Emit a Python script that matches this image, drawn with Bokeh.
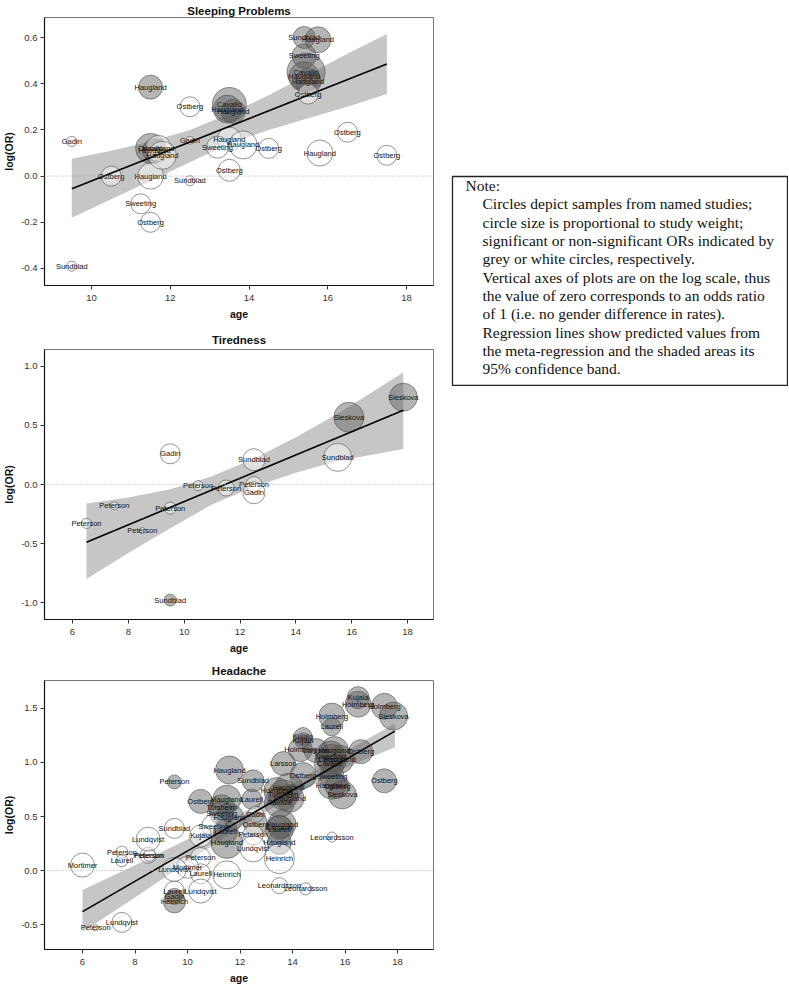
from bokeh.plotting import figure
from bokeh.models import ColumnDataSource, Range1d, FixedTicker, PrintfTickFormatter, Span
from bokeh.layouts import column, row
from bokeh.embed import file_html
from bokeh.resources import INLINE
from bokeh.core.properties import value

FONT = "Liberation Sans"
SERIF = "Liberation Serif"

# ---------------- Sleeping Problems ----------------
sp_study = ["Gadin", "Sundblad", "Ostberg", "Haugland", "Sweeting", "Ostberg", "Haugland",
            "Cavallo", "Haugland", "Haugland", "Haugland", "Gadin", "Sundblad", "Ostberg",
            "Cavallo", "Haugland", "Haugland", "Haugland", "Sweeting", "Haugland", "Ostberg",
            "Ostberg", "Sundblad", "Haugland", "Sweeting", "Cavallo", "Haugland", "Haugland",
            "Ostberg", "Ostberg", "Haugland", "Ostberg"]
sp_age = [9.5, 9.5, 10.5, 11.5, 11.25, 11.5, 11.5,
          11.5, 11.6, 11.7, 11.8, 12.5, 12.5, 12.5,
          13.5, 13.45, 13.6, 13.5, 13.2, 13.85, 14.5,
          13.5, 15.4, 15.75, 15.4, 15.45, 15.4, 15.5,
          15.5, 16.5, 15.8, 17.5]
sp_logor = [0.15, -0.39, 0.0, 0.0, -0.12, -0.2, 0.385,
            0.12, 0.11, 0.12, 0.09, 0.155, -0.02, 0.30,
            0.31, 0.29, 0.28, 0.16, 0.125, 0.135, 0.12,
            0.025, 0.60, 0.59, 0.52, 0.45, 0.43, 0.41,
            0.355, 0.19, 0.10, 0.09]
sp_weight = [5, 5, 10, 13, 10, 10, 12,
             15, 12, 13, 14, 4, 5, 10,
             17, 14, 12, 12, 11, 14, 10,
             11, 11, 13, 12, 19, 15, 13,
             10, 10, 13, 10]
sp_sig = [0, 0, 0, 0, 0, 0, 1,
          1, 1, 0, 0, 0, 0, 0,
          1, 1, 1, 0, 0, 0, 0,
          0, 1, 1, 1, 1, 1, 1,
          0, 0, 0, 0]
sp_line_age = [9.5, 17.5]
sp_line_fit = [-0.055, 0.485]
sp_band_age = [9.5, 10.5, 11.5, 12.5, 13.5, 14.5, 15.5, 16.5, 17.5]
sp_band_lo = [-0.18, -0.10, -0.02, 0.06, 0.14, 0.20, 0.25, 0.30, 0.355]
sp_band_hi = [0.075, 0.11, 0.15, 0.20, 0.27, 0.35, 0.44, 0.53, 0.615]
sp_xticks = [10, 12, 14, 16, 18]
sp_yticks = [-0.4, -0.2, 0.0, 0.2, 0.4, 0.6]

# ---------------- Tiredness ----------------
ti_study = ["Sleskova", "Sleskova", "Gadin", "Sundblad", "Sundblad", "Peterson", "Peterson",
            "Peterson", "Gadin", "Peterson", "Peterson", "Peterson", "Peterson", "Sundblad"]
ti_age = [17.85, 15.9, 9.5, 12.5, 15.5, 10.5, 11.5, 12.5, 12.5, 7.5, 9.5, 6.5, 8.5, 9.5]
ti_logor = [0.74, 0.57, 0.26, 0.21, 0.23, -0.01, -0.03, 0.0, -0.07, -0.18, -0.2, -0.33, -0.39, -0.98]
ti_weight = [14, 15, 10, 11, 14, 5, 8, 8, 11, 4, 6, 5, 3, 6]
ti_sig = [1, 1, 0, 0, 0, 0, 0, 0, 0, 0, 0, 0, 0, 1]
ti_line_age = [6.5, 17.85]
ti_line_fit = [-0.49, 0.63]
ti_band_age = [6.5, 8.0, 9.5, 11.0, 12.5, 14.0, 15.5, 17.85]
ti_band_lo = [-0.80, -0.58, -0.37, -0.17, -0.02, 0.10, 0.20, 0.30]
ti_band_hi = [-0.16, -0.11, -0.04, 0.07, 0.22, 0.40, 0.60, 0.95]
ti_xticks = [6, 8, 10, 12, 14, 16, 18]
ti_yticks = [-1.0, -0.5, 0.0, 0.5, 1.0]

# ---------------- Headache ----------------
he_study = ["Kujala", "Holmberg", "Holmberg", "Sleskova", "Holmberg", "Laurell", "Kujala",
            "Kujala", "Holmberg", "Larsson", "Haugland", "Ostberg", "Sweeting", "Larsson",
            "Haugland", "Cavallo", "Larsson", "Ostberg", "Sweeting", "Ostberg", "Haugland",
            "Ostberg", "Sleskova", "Haugland", "Sundblad", "Peterson", "Ostberg", "Haugland",
            "Laurell", "Haugland", "Holmberg", "Torsheim", "Haugland", "Cavallo", "Torsheim",
            "Sweeting", "Haugland", "Gadin", "Ostberg", "Haugland", "Laurell", "Larsson",
            "Sweeting", "Laurell", "Kujala", "Peterson", "Leonardsson", "Haugland", "Lundqvist",
            "Haugland", "Heinrich", "Sundblad", "Peterson", "Laurell", "Heinrich", "Mortimer",
            "Lundqvist", "Lundqvist", "Laurell", "Gadin", "Heinrich", "Leonardsson", "Leonardsson",
            "Mortimer", "Peterson", "Laurell", "Peterson", "Peterson", "Lundqvist", "Peterson",
            "Lundqvist"]
he_age = [16.5, 16.5, 17.5, 17.85, 15.5, 15.5, 14.4,
          14.4, 14.3, 14.9, 15.6, 16.6, 15.45, 15.5,
          15.8, 15.4, 13.65, 14.4, 15.5, 17.5, 15.5,
          15.7, 15.9, 11.6, 12.5, 9.5, 10.5, 11.5,
          12.45, 13.85, 13.4, 13.65, 13.9, 13.5, 11.3,
          11.3, 11.6, 12.6, 12.6, 13.6, 13.5, 13.5,
          11.0, 11.45, 10.5, 12.5, 15.5, 11.5, 12.5,
          13.5, 13.5, 9.5, 10.5, 10.5, 11.5, 10.0,
          9.5, 10.5, 9.5, 9.5, 9.5, 13.5, 14.5,
          6.0, 7.5, 7.5, 8.5, 8.55, 8.5, 6.5,
          7.5]
he_logor = [1.60, 1.54, 1.52, 1.43, 1.43, 1.33, 1.24,
            1.20, 1.12, 1.11, 1.11, 1.10, 1.06, 1.03,
            1.03, 0.99, 0.99, 0.88, 0.87, 0.83, 0.79,
            0.78, 0.70, 0.93, 0.83, 0.82, 0.64, 0.66,
            0.66, 0.77, 0.74, 0.70, 0.67, 0.63, 0.58,
            0.53, 0.49, 0.52, 0.43, 0.43, 0.38, 0.40,
            0.41, 0.36, 0.32, 0.33, 0.31, 0.26, 0.20,
            0.26, 0.11, 0.39, 0.12, -0.03, -0.04, 0.03,
            0.01, -0.19, -0.19, -0.24, -0.29, -0.14, -0.17,
            0.05, 0.17, 0.09, 0.14, 0.14, 0.29, -0.53,
            -0.48]
he_weight = [11, 13, 13, 14, 13, 9, 9,
             8, 12, 12, 14, 12, 15, 15,
             14, 15, 12, 13, 12, 12, 14,
             12, 14, 14, 11, 7, 12, 14,
             10, 14, 13, 15, 14, 15, 13,
             12, 14, 8, 12, 14, 14, 12,
             12, 12, 11, 10, 5, 16, 13,
             12, 15, 10, 10, 10, 14, 11,
             12, 12, 10, 8, 11, 8, 6,
             12, 6, 6, 8, 6, 12, 3,
             10]
he_sig = [1, 1, 1, 1, 1, 1, 1,
          1, 1, 1, 1, 1, 1, 1,
          1, 1, 1, 1, 1, 1, 1,
          1, 1, 1, 1, 1, 1, 1,
          1, 1, 1, 1, 1, 1, 1,
          1, 1, 0, 1, 1, 1, 1,
          0, 1, 0, 0, 0, 1, 0,
          1, 0, 0, 0, 0, 0, 0,
          0, 0, 0, 1, 1, 0, 0,
          0, 0, 0, 0, 0, 0, 0,
          0]
he_line_age = [6.0, 17.9]
he_line_fit = [-0.38, 1.29]
he_band_age = [6.0, 8.0, 10.0, 12.0, 14.0, 16.0, 17.9]
he_band_lo = [-0.57, -0.25, 0.08, 0.40, 0.69, 0.95, 1.14]
he_band_hi = [-0.18, 0.05, 0.29, 0.52, 0.80, 1.10, 1.36]
he_xticks = [6, 8, 10, 12, 14, 16, 18]
he_yticks = [-0.5, 0.0, 0.5, 1.0, 1.5]

note_lines = [
    "Note:",
    "Circles depict samples from named studies;",
    "circle size is proportional to study weight;",
    "significant or non-significant ORs indicated by",
    "grey or white circles, respectively.",
    "Vertical axes of plots are on the log scale, thus",
    "the value of zero corresponds to an odds ratio",
    "of 1 (i.e. no gender difference in rates).",
    "Regression lines show predicted values from",
    "the meta-regression and the shaded areas its",
    "95% confidence band.",
]


def make_panel(title, study, ages, lor, weight, sig, lx, ly, bx, blo, bhi,
               xticks, yticks, xr, yr, frame_h, mb_top, mb_bottom, t_standoff):
    p = figure(frame_width=389, frame_height=frame_h,
               x_range=Range1d(*xr), y_range=Range1d(*yr),
               output_backend="svg", toolbar_location=None,
               min_border_left=44, min_border_right=6,
               min_border_top=mb_top, min_border_bottom=mb_bottom,
               title=title)
    p.title.align = "center"
    p.title.text_font = FONT
    p.title.text_font_size = "11.5px"
    p.title.text_font_style = "bold"
    p.title.standoff = t_standoff
    p.title.text_color = "#111111"
    p.xgrid.visible = False
    p.ygrid.visible = False
    p.outline_line_color = "#777777"
    p.outline_line_width = 1
    p.background_fill_color = "white"
    p.border_fill_color = "white"
    for ax in (p.xaxis, p.yaxis):
        ax.axis_line_color = "#111111"
        ax.axis_line_width = 1.2
        ax.major_tick_line_color = "#333333"
        ax.major_tick_out = 4
        ax.major_tick_in = 0
        ax.minor_tick_line_color = None
        ax.major_label_text_font = FONT
        ax.major_label_text_font_size = "9.5px"
        ax.major_label_text_color = "#333333"
        ax.major_label_standoff = 5
        ax.axis_label_text_font = FONT
        ax.axis_label_text_font_size = "10.5px"
        ax.axis_label_text_font_style = "bold"
        ax.axis_label_text_color = "#111111"
        ax.axis_label_standoff = 4
    p.yaxis.major_label_standoff = 3
    p.yaxis.axis_label_standoff = 3
    p.xaxis.ticker = FixedTicker(ticks=xticks)
    p.yaxis.ticker = FixedTicker(ticks=yticks)
    p.yaxis.formatter = PrintfTickFormatter(format="%.1f")
    p.xaxis.axis_label = "age"
    p.yaxis.axis_label = "log(OR)"

    p.varea(x=bx, y1=blo, y2=bhi, fill_color="#c6c6c6", fill_alpha=1.0)
    p.add_layout(Span(location=0, dimension="width", line_color="#b0b0b0",
                      line_dash="1 2", line_width=1))
    src = ColumnDataSource(dict(
        x=ages, y=lor, study=study,
        size=[2 * w for w in weight],
        fill=["#5c5c5c" if s else "#ffffff" for s in sig],
        alpha=[0.45 for s in sig],
    ))
    p.scatter("x", "y", size="size", source=src, marker="circle",
              fill_color="fill", fill_alpha="alpha",
              line_color="#555555", line_width=0.7, line_alpha=0.9)
    p.line(lx, ly, line_color="black", line_width=1.6)
    p.text("x", "y", text="study", source=src, text_align="center",
           text_baseline="middle", text_font=value(FONT),
           text_font_size="7.5px", text_color="#111111")
    return p


p1 = make_panel("Sleeping Problems", sp_study, sp_age, sp_logor, sp_weight, sp_sig,
                sp_line_age, sp_line_fit, sp_band_age, sp_band_lo, sp_band_hi,
                sp_xticks, sp_yticks, (8.807, 18.685), (-0.4736, 0.6866),
                268, 17, 42, 2)
p2 = make_panel("Tiredness", ti_study, ti_age, ti_logor, ti_weight, ti_sig,
                ti_line_age, ti_line_fit, ti_band_age, ti_band_lo, ti_band_hi,
                ti_xticks, ti_yticks, (4.997, 18.931), (-1.144, 1.144),
                270, 22, 39, 7)
p3 = make_panel("Headache", he_study, he_age, he_logor, he_weight, he_sig,
                he_line_age, he_line_fit, he_band_age, he_band_lo, he_band_hi,
                he_xticks, he_yticks, (4.552, 19.371), (-0.731, 1.759),
                269, 22, 35, 7)

note = figure(width=337, height=211, x_range=Range1d(0, 335), y_range=Range1d(209, 0),
              output_backend="svg", toolbar_location=None, min_border=1)
note.axis.visible = False
note.xgrid.visible = False
note.ygrid.visible = False
note.outline_line_color = "#222222"
note.outline_line_width = 1.3
nx = [13] + [30] * (len(note_lines) - 1)
ny = [9 + 18.33 * i for i in range(len(note_lines))]
note.text(x=nx, y=ny, text=note_lines, text_align="left", text_baseline="middle",
          text_font=value(SERIF), text_font_size="15.5px", text_color="#111111")
note.margin = (175, 0, 0, 12)

layout = row(column(p1, p2, p3), note)
open("out.html", "w").write(file_html(layout, INLINE))
